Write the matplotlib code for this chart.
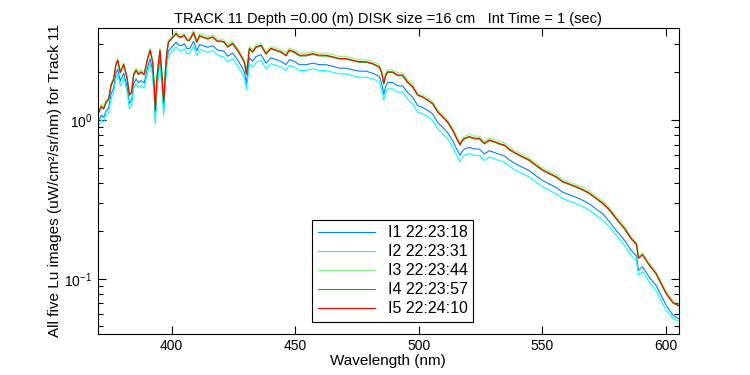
import numpy as np
import matplotlib
matplotlib.use("Agg")
import matplotlib.pyplot as plt
from matplotlib.ticker import LogLocator, NullFormatter

plt.rcParams["font.family"] = ["Liberation Sans", "DejaVu Sans"]

# --- data -----------------------------------------------------------
wl = [370.3, 371.5, 372.5, 373.5, 374.5, 375.5, 376.5, 377.5, 378.2, 379.2,
      380.6, 382.0, 382.9, 383.8, 384.6, 385.6, 386.6, 387.6, 388.9, 390.3,
      391.3, 392.3, 393.0, 393.4, 394.0, 394.6, 395.3, 396.0, 396.8, 397.5,
      398.0, 398.7, 400.0, 401.8, 403.0, 404.0, 405.1, 406.2, 407.2, 408.9,
      410.2, 411.3, 412.6, 414.6, 416.6, 418.6, 420.0, 421.3, 422.7, 424.7,
      426.7, 428.7, 429.5, 430.3, 431.0, 431.5, 432.8, 434.2, 436.2, 438.2,
      440.2, 442.3, 444.3, 446.3, 447.7, 449.7, 451.7, 454.4, 457.1, 459.8,
      462.5, 465.2, 467.9, 470.6, 473.3, 476.0, 478.7, 481.4, 484.1, 485.0,
      485.9, 486.6, 487.4, 489.5, 491.5, 493.5, 495.5, 497.6, 499.6, 501.6,
      503.6, 505.7, 507.7, 509.7, 511.7, 513.8, 515.4, 516.8, 517.6, 518.5,
      520.5, 522.6, 524.6, 526.6, 528.6, 530.7, 532.7, 534.7, 536.7, 539.4,
      542.1, 544.8, 547.5, 550.2, 552.9, 555.6, 558.3, 561.0, 563.7, 566.4,
      569.1, 571.8, 574.5, 577.3, 579.3, 581.5, 583.3, 586.0, 588.2, 589.0,
      590.6, 593.4, 596.1, 598.1, 600.2, 602.9, 605.2]

lu1 = [0.97, 1.07, 1.04, 1.14, 1.19, 1.46, 1.58, 1.98, 2.09, 1.76,
       1.97, 1.61, 1.27, 1.32, 1.69, 1.81, 1.72, 1.77, 1.71, 2.15,
       2.43, 2.05, 1.41, 1.01, 1.58, 1.98, 2.43, 1.76, 1.14, 1.80,
       2.29, 2.73, 2.87, 3.09, 2.95, 2.94, 3.02, 2.82, 2.80, 3.13,
       2.73, 2.99, 2.94, 2.87, 2.94, 2.76, 2.74, 2.70, 2.52, 2.64,
       2.40, 2.12, 2.00, 1.70, 2.09, 2.46, 2.34, 2.51, 2.58, 2.28,
       2.46, 2.40, 2.34, 2.23, 2.40, 2.34, 2.23, 2.23, 2.28, 2.23,
       2.23, 2.18, 2.12, 2.12, 2.07, 2.03, 2.03, 1.97, 1.88, 1.71,
       1.45, 1.62, 1.72, 1.72, 1.64, 1.64, 1.49, 1.39, 1.23, 1.20,
       1.15, 1.09, 0.966, 0.898, 0.834, 0.740, 0.656, 0.599, 0.633, 0.656,
       0.672, 0.656, 0.656, 0.610, 0.640, 0.624, 0.607, 0.595, 0.560, 0.528,
       0.503, 0.479, 0.445, 0.415, 0.395, 0.376, 0.351, 0.338, 0.326, 0.312,
       0.296, 0.275, 0.257, 0.228, 0.207, 0.189, 0.175, 0.151, 0.139, 0.113,
       0.119, 0.102, 0.0907, 0.0790, 0.0680, 0.0590, 0.0560]

lu2 = [0.90, 1.00, 0.97, 1.07, 1.11, 1.36, 1.48, 1.85, 1.95, 1.64,
       1.84, 1.50, 1.18, 1.23, 1.57, 1.69, 1.60, 1.65, 1.59, 2.00,
       2.26, 1.91, 1.31, 0.94, 1.48, 1.85, 2.26, 1.64, 1.07, 1.68,
       2.13, 2.54, 2.67, 2.88, 2.75, 2.74, 2.81, 2.62, 2.61, 2.92,
       2.54, 2.79, 2.74, 2.67, 2.74, 2.57, 2.52, 2.48, 2.32, 2.43,
       2.21, 1.95, 1.84, 1.56, 1.92, 2.26, 2.15, 2.31, 2.37, 2.10,
       2.26, 2.21, 2.15, 2.05, 2.21, 2.15, 2.05, 2.05, 2.10, 2.05,
       2.05, 2.00, 1.95, 1.95, 1.90, 1.86, 1.86, 1.82, 1.73, 1.56,
       1.33, 1.48, 1.57, 1.57, 1.50, 1.50, 1.36, 1.26, 1.12, 1.09,
       1.05, 0.99, 0.881, 0.819, 0.761, 0.675, 0.598, 0.546, 0.577, 0.598,
       0.613, 0.598, 0.598, 0.556, 0.584, 0.569, 0.554, 0.543, 0.511, 0.481,
       0.459, 0.437, 0.406, 0.378, 0.360, 0.343, 0.320, 0.308, 0.297, 0.285,
       0.270, 0.251, 0.234, 0.212, 0.193, 0.176, 0.162, 0.140, 0.129, 0.105,
       0.111, 0.095, 0.0842, 0.0733, 0.0632, 0.0565, 0.0540]

lu3 = [1.13, 1.26, 1.22, 1.34, 1.39, 1.71, 1.85, 2.32, 2.45, 2.06,
       2.31, 1.88, 1.48, 1.55, 1.98, 2.12, 2.01, 2.07, 2.00, 2.51,
       2.84, 2.40, 1.65, 1.18, 1.85, 2.32, 2.84, 2.06, 1.34, 2.11,
       2.68, 3.19, 3.36, 3.62, 3.45, 3.44, 3.53, 3.30, 3.28, 3.67,
       3.19, 3.50, 3.44, 3.36, 3.44, 3.23, 3.24, 3.19, 2.99, 3.13,
       2.84, 2.51, 2.37, 2.01, 2.47, 2.91, 2.77, 2.98, 3.05, 2.70,
       2.91, 2.84, 2.77, 2.64, 2.84, 2.77, 2.64, 2.64, 2.70, 2.64,
       2.64, 2.58, 2.51, 2.51, 2.45, 2.40, 2.40, 2.34, 2.22, 2.06,
       1.75, 1.96, 2.07, 2.07, 1.98, 1.98, 1.79, 1.67, 1.48, 1.44,
       1.38, 1.31, 1.16, 1.08, 1.00, 0.891, 0.790, 0.721, 0.762, 0.790,
       0.810, 0.790, 0.790, 0.734, 0.771, 0.752, 0.731, 0.717, 0.675, 0.636,
       0.606, 0.577, 0.536, 0.500, 0.476, 0.453, 0.422, 0.407, 0.392, 0.376,
       0.356, 0.332, 0.309, 0.280, 0.254, 0.232, 0.214, 0.185, 0.170, 0.139,
       0.146, 0.126, 0.111, 0.0968, 0.0834, 0.0731, 0.0700]

lu4 = [1.09, 1.21, 1.17, 1.29, 1.34, 1.64, 1.78, 2.23, 2.36, 1.98,
       2.22, 1.81, 1.43, 1.49, 1.90, 2.04, 1.93, 1.99, 1.92, 2.42,
       2.73, 2.31, 1.58, 1.14, 1.78, 2.23, 2.73, 1.98, 1.29, 2.03,
       2.57, 3.07, 3.23, 3.47, 3.32, 3.31, 3.40, 3.17, 3.15, 3.52,
       3.07, 3.37, 3.31, 3.23, 3.31, 3.11, 3.12, 3.07, 2.87, 3.01,
       2.73, 2.42, 2.28, 1.93, 2.38, 2.80, 2.66, 2.86, 2.93, 2.59,
       2.80, 2.73, 2.66, 2.53, 2.73, 2.66, 2.53, 2.53, 2.59, 2.53,
       2.53, 2.48, 2.42, 2.42, 2.36, 2.31, 2.31, 2.25, 2.14, 1.98,
       1.68, 1.88, 1.99, 1.99, 1.90, 1.90, 1.72, 1.60, 1.43, 1.39,
       1.33, 1.26, 1.12, 1.04, 0.965, 0.856, 0.759, 0.693, 0.733, 0.759,
       0.778, 0.759, 0.759, 0.706, 0.742, 0.723, 0.703, 0.689, 0.648, 0.611,
       0.582, 0.554, 0.515, 0.480, 0.457, 0.436, 0.406, 0.391, 0.377, 0.361,
       0.343, 0.319, 0.297, 0.269, 0.245, 0.223, 0.206, 0.178, 0.163, 0.134,
       0.141, 0.121, 0.107, 0.0931, 0.0802, 0.0703, 0.0673]

lu5 = [1.10, 1.22, 1.18, 1.30, 1.35, 1.66, 1.80, 2.25, 2.38, 2.00,
       2.24, 1.83, 1.44, 1.50, 1.92, 2.06, 1.95, 2.01, 1.94, 2.44,
       2.76, 2.33, 1.60, 1.15, 1.80, 2.25, 2.76, 2.00, 1.30, 2.05,
       2.60, 3.10, 3.26, 3.51, 3.35, 3.34, 3.43, 3.20, 3.18, 3.56,
       3.10, 3.40, 3.34, 3.26, 3.34, 3.14, 3.15, 3.10, 2.90, 3.04,
       2.76, 2.44, 2.30, 1.95, 2.40, 2.83, 2.69, 2.89, 2.96, 2.62,
       2.83, 2.76, 2.69, 2.56, 2.76, 2.69, 2.56, 2.56, 2.62, 2.56,
       2.56, 2.50, 2.44, 2.44, 2.38, 2.33, 2.33, 2.27, 2.16, 2.00,
       1.70, 1.90, 2.01, 2.01, 1.92, 1.92, 1.74, 1.62, 1.44, 1.40,
       1.34, 1.27, 1.13, 1.05, 0.975, 0.865, 0.767, 0.700, 0.740, 0.767,
       0.786, 0.767, 0.767, 0.713, 0.749, 0.730, 0.710, 0.696, 0.655, 0.617,
       0.588, 0.560, 0.520, 0.485, 0.462, 0.440, 0.410, 0.395, 0.381, 0.365,
       0.346, 0.322, 0.300, 0.272, 0.247, 0.225, 0.208, 0.180, 0.165, 0.135,
       0.142, 0.122, 0.108, 0.094, 0.081, 0.071, 0.068]

labels = ["I1 22:23:18", "I2 22:23:31", "I3 22:23:44", "I4 22:23:57", "I5 22:24:10"]
colors = ["#0080ff", "#00ffff", "#80ff80", "#00c000", "#ff0000"]

# --- figure -----------------------------------------------------------
fig = plt.figure(figsize=(7.5, 3.75), dpi=100)
ax = fig.add_axes([0.13, 0.11, 0.775, 0.815])

for series, lab, col in zip([lu1, lu2, lu3, lu4, lu5], labels, colors):
    ax.plot(wl, series, color=col, linewidth=0.8, label=lab)

ax.set_yscale("log")
ax.set_xlim(370, 605.3)
ax.set_ylim(0.045, 3.79)
ax.set_xticks([400, 450, 500, 550, 600])
ax.yaxis.set_major_locator(LogLocator(base=10))
ax.yaxis.set_minor_locator(LogLocator(base=10, subs=np.arange(2, 10)))
ax.yaxis.set_minor_formatter(NullFormatter())

ax.tick_params(which="both", direction="in", top=True, right=True,
               labelsize=10, width=0.8)
ax.tick_params(which="major", length=6)
ax.tick_params(which="minor", length=3.5)
for sp in ax.spines.values():
    sp.set_linewidth(0.8)

ax.set_xlabel("Wavelength (nm)", fontsize=11, labelpad=1)
ax.set_ylabel("All five Lu images (uW/cm\u00b2/sr/nm) for Track 11", fontsize=11, labelpad=2)
ax.set_title("TRACK 11 Depth =0.00 (m) DISK size =16 cm   Int Time = 1 (sec)",
             fontsize=10.5, pad=4)

leg = ax.legend(loc="lower left", bbox_to_anchor=(0.369, 0.039), borderaxespad=0,
                fontsize=11.5, handlelength=3.6, fancybox=False, framealpha=1,
                edgecolor="black", labelspacing=0.25, borderpad=0.35)
leg.get_frame().set_linewidth(0.8)

fig.savefig("out.png", dpi=100)
